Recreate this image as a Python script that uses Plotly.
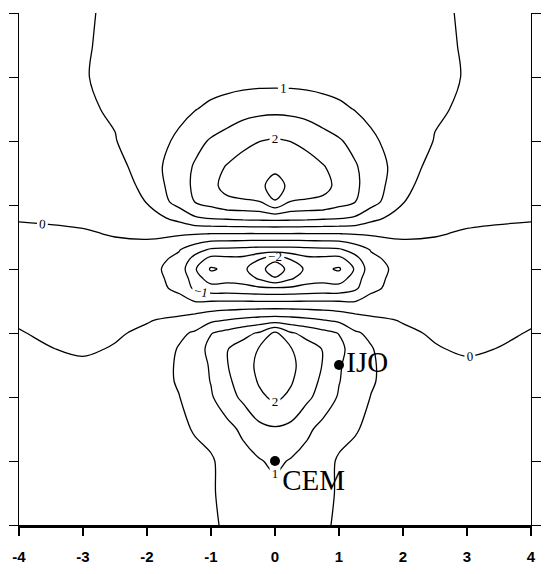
import plotly.graph_objects as go

# grid (x across, y up)
x_values = [-4, -3, -2.5, -2, -1.5, -1.25, -1, -0.75, -0.5, -0.25, 0,
            0.25, 0.5, 0.75, 1, 1.25, 1.5, 2, 2.5, 3, 4]
y_values = [-4, -3.5, -3, -2.5, -2, -1.75, -1.5, -1.25, -1, -0.8, -0.55,
            -0.3, -0.15, 0, 0.15, 0.3, 0.55, 0.8, 1.05, 1.3, 1.6, 2, 2.5, 3, 3.5, 4]

z_values = [
    [0.27, 0.26, 0.27, 0.30, 0.33, 0.38, 0.45, 0.55, 0.65, 0.72, 0.75, 0.72, 0.65, 0.55, 0.45, 0.38, 0.33, 0.30, 0.27, 0.26, 0.27],
    [0.27, 0.26, 0.27, 0.30, 0.34, 0.38, 0.46, 0.60, 0.70, 0.80, 0.85, 0.80, 0.70, 0.60, 0.46, 0.38, 0.34, 0.30, 0.27, 0.26, 0.27],
    [0.27, 0.25, 0.27, 0.30, 0.35, 0.40, 0.45, 0.66, 0.82, 0.96, 1.10, 0.96, 0.82, 0.66, 0.45, 0.40, 0.35, 0.30, 0.27, 0.25, 0.27],
    [0.25, 0.22, 0.25, 0.30, 0.42, 0.53, 0.65, 0.85, 1.10, 1.38, 1.45, 1.38, 1.10, 0.85, 0.65, 0.53, 0.42, 0.30, 0.25, 0.22, 0.25],
    [0.22, 0.20, 0.22, 0.30, 0.49, 0.68, 0.95, 1.30, 1.60, 1.90, 2.10, 1.90, 1.60, 1.30, 0.95, 0.68, 0.49, 0.30, 0.22, 0.20, 0.22],
    [0.20, 0.15, 0.18, 0.28, 0.54, 0.75, 1.02, 1.42, 1.68, 2.05, 2.18, 2.05, 1.68, 1.42, 1.02, 0.75, 0.54, 0.28, 0.18, 0.15, 0.20],
    [0.15, 0.07, 0.12, 0.25, 0.55, 0.78, 1.05, 1.48, 1.75, 2.12, 2.22, 2.12, 1.75, 1.48, 1.05, 0.78, 0.55, 0.25, 0.12, 0.07, 0.15],
    [0.08, -0.06, 0.03, 0.15, 0.53, 0.75, 1.15, 1.48, 1.70, 2.03, 2.20, 2.03, 1.70, 1.48, 1.15, 0.75, 0.53, 0.15, 0.03, -0.06, 0.08],
    [0.02, -0.15, -0.05, 0.08, 0.42, 0.55, 0.98, 1.15, 1.35, 1.55, 2.10, 1.55, 1.35, 1.15, 0.98, 0.55, 0.42, 0.08, -0.05, -0.15, 0.02],
    [-0.04, -0.22, -0.12, -0.03, 0.10, 0.25, 0.40, 0.52, 0.62, 0.70, 0.75, 0.70, 0.62, 0.52, 0.40, 0.25, 0.10, -0.03, -0.12, -0.22, -0.04],
    [-0.15, -0.30, -0.22, -0.18, -0.30, -0.38, -0.32, -0.30, -0.30, -0.30, -0.30, -0.30, -0.30, -0.30, -0.32, -0.38, -0.30, -0.18, -0.22, -0.30, -0.15],
    [-0.22, -0.32, -0.28, -0.30, -0.60, -1.10, -1.30, -1.32, -1.35, -1.42, -1.45, -1.42, -1.35, -1.32, -1.30, -1.10, -0.60, -0.30, -0.28, -0.32, -0.22],
    [-0.25, -0.30, -0.25, -0.32, -0.65, -1.25, -1.75, -1.65, -1.70, -2.05, -2.45, -2.05, -1.70, -1.65, -1.75, -1.25, -0.65, -0.32, -0.25, -0.30, -0.25],
    [-0.23, -0.25, -0.22, -0.32, -0.72, -1.45, -2.06, -1.90, -1.90, -2.30, -2.80, -2.30, -1.90, -1.90, -2.06, -1.45, -0.72, -0.32, -0.22, -0.25, -0.23],
    [-0.18, -0.18, -0.15, -0.28, -0.62, -1.20, -1.70, -1.65, -1.65, -1.98, -2.40, -1.98, -1.65, -1.65, -1.70, -1.20, -0.62, -0.28, -0.15, -0.18, -0.18],
    [-0.15, -0.12, -0.08, -0.13, -0.47, -0.80, -1.08, -1.12, -1.15, -1.20, -1.20, -1.20, -1.15, -1.12, -1.08, -0.80, -0.47, -0.13, -0.08, -0.12, -0.15],
    [-0.06, -0.03, 0.02, 0.07, 0.06, 0.03, -0.01, -0.01, -0.02, -0.02, -0.02, -0.02, -0.02, -0.01, -0.01, 0.03, 0.06, 0.07, 0.02, -0.03, -0.06],
    [0.02, 0.06, 0.14, 0.28, 0.65, 0.95, 1.05, 1.10, 1.15, 1.18, 1.20, 1.18, 1.15, 1.10, 1.05, 0.95, 0.65, 0.28, 0.14, 0.06, 0.02],
    [0.09, 0.16, 0.22, 0.52, 1.20, 1.51, 1.70, 1.92, 1.93, 1.98, 2.48, 1.98, 1.93, 1.92, 1.70, 1.51, 1.20, 0.52, 0.22, 0.16, 0.09],
    [0.14, 0.22, 0.27, 0.62, 1.30, 1.58, 1.90, 2.12, 2.30, 2.40, 2.66, 2.40, 2.30, 2.12, 1.90, 1.58, 1.30, 0.62, 0.27, 0.22, 0.14],
    [0.18, 0.28, 0.33, 0.75, 1.27, 1.55, 1.82, 2.03, 2.18, 2.30, 2.40, 2.30, 2.18, 2.03, 1.82, 1.55, 1.27, 0.75, 0.33, 0.28, 0.18],
    [0.22, 0.36, 0.48, 0.80, 1.07, 1.35, 1.55, 1.70, 1.88, 1.99, 2.05, 1.99, 1.88, 1.70, 1.55, 1.35, 1.07, 0.80, 0.48, 0.36, 0.22],
    [0.27, 0.44, 0.55, 0.72, 0.90, 0.98, 1.10, 1.20, 1.30, 1.36, 1.38, 1.36, 1.30, 1.20, 1.10, 0.98, 0.90, 0.72, 0.55, 0.44, 0.27],
    [0.30, 0.48, 0.58, 0.65, 0.72, 0.74, 0.76, 0.78, 0.79, 0.80, 0.80, 0.80, 0.79, 0.78, 0.76, 0.74, 0.72, 0.65, 0.58, 0.48, 0.30],
    [0.30, 0.47, 0.57, 0.62, 0.68, 0.70, 0.72, 0.74, 0.75, 0.76, 0.76, 0.76, 0.75, 0.74, 0.72, 0.70, 0.68, 0.62, 0.57, 0.47, 0.30],
    [0.30, 0.46, 0.56, 0.60, 0.64, 0.66, 0.68, 0.70, 0.71, 0.72, 0.72, 0.72, 0.71, 0.70, 0.68, 0.66, 0.64, 0.60, 0.56, 0.46, 0.30],
]

labelled_levels = dict(start=-2, end=2, size=1)
plain_levels = dict(start=-2.5, end=2.5, size=1)

station_names = ["CEM", "IJO"]
station_x = [0, 1]
station_y = [-3, -1.5]
station_text_pos = ["bottom right", "middle right"]

tick_values = [-4, -3, -2, -1, 0, 1, 2, 3, 4]
tick_labels = ["-4", "-3", "-2", "-1", "0", "1", "2", "3", "4"]

line_style = dict(color="black", width=1.3, smoothing=1.0)

fig = go.Figure()
fig.add_trace(go.Contour(
    x=x_values, y=y_values, z=z_values,
    contours=dict(coloring="none", showlabels=False, **plain_levels),
    line=line_style, showscale=False, hoverinfo="skip"))
fig.add_trace(go.Contour(
    x=x_values, y=y_values, z=z_values,
    contours=dict(coloring="none", showlabels=True,
                  labelfont=dict(family="Liberation Serif", size=13, color="black"),
                  **labelled_levels),
    line=line_style, showscale=False, hoverinfo="skip"))
fig.add_trace(go.Scatter(
    x=station_x, y=station_y, mode="markers+text",
    text=station_names, textposition=station_text_pos,
    marker=dict(size=10, color="black"),
    textfont=dict(family="Liberation Serif", size=29, color="black"),
    hoverinfo="skip"))

axis_common = dict(showgrid=False, zeroline=False, linecolor="black",
                   tickcolor="black", ticks="outside")

fig.update_layout(
    width=550, height=574,
    margin=dict(l=19, r=9, t=13, b=41),
    paper_bgcolor="white", plot_bgcolor="white",
    showlegend=False,
    xaxis=dict(range=[-4, 4], tickvals=tick_values, ticktext=tick_labels,
               ticklen=8, tickwidth=1.5, showline=True, linewidth=3,
               tickfont=dict(family="Liberation Sans", size=15, color="black", weight="bold"),
               ticklabelstandoff=8, **axis_common),
    xaxis2=dict(range=[-4, 4], overlaying="x", side="top", tickvals=tick_values,
                showticklabels=False, ticklen=8, tickwidth=1.5, showline=True,
                linewidth=1.5, **axis_common),
    yaxis=dict(range=[-4, 4], tickvals=tick_values, showticklabels=False,
               ticklen=9, tickwidth=1.2, showline=True, linewidth=1,
               mirror="ticks", **axis_common),
)

fig.write_html("out.html")
